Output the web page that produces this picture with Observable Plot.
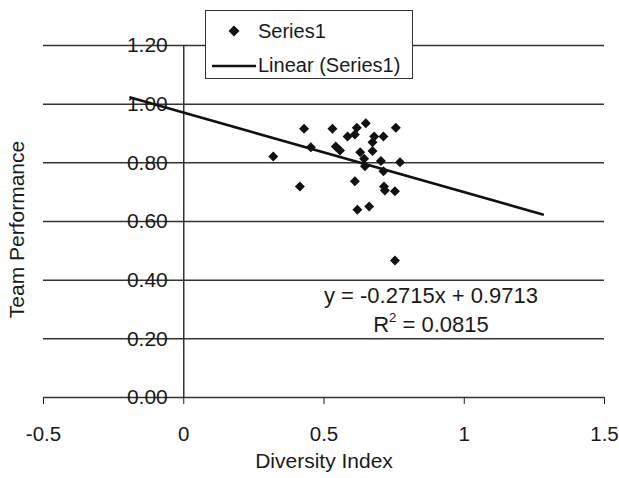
<!DOCTYPE html>
<html>
<head>
<meta charset="utf-8">
<script src="https://cdn.jsdelivr.net/npm/d3@7"></script>
<script src="https://cdn.jsdelivr.net/npm/@observablehq/plot@0.6"></script>
<style>
  body { margin: 0; background: white; }
  #wrap { position: relative; width: 619px; height: 478px; font-family: "Liberation Sans", Arial, sans-serif; color: #1a1a1a; }
  #legend { position: absolute; left: 205px; top: 10px; width: 206px; height: 67px; border: 1.5px solid #333; background: white; }
  #legend span { position: absolute; font-size: 20px; line-height: 24px; white-space: nowrap; }
  #eq { position: absolute; left: 300px; top: 281px; width: 262px; text-align: center; font-size: 22px; line-height: 29px; }
  #eq sup { font-size: 60%; line-height: 0; position: relative; top: -0.1em; }
</style>
</head>
<body>
<div id="wrap">
  <div id="chart"></div>
  <div id="legend">
    <svg style="position:absolute;left:22px;top:14px" width="12" height="12"><path d="M6,0.5L11.5,6L6,11.5L0.5,6Z" fill="#111"/></svg>
    <span style="left:52px;top:8px">Series1</span>
    <svg style="position:absolute;left:6px;top:53px" width="44" height="4"><line x1="0" y1="2" x2="44" y2="2" stroke="#111" stroke-width="2.6"/></svg>
    <span style="left:52px;top:42px">Linear (Series1)</span>
  </div>
  <div id="eq">y = -0.2715x + 0.9713<br>R<sup>2</sup> = 0.0815</div>
</div>
<script>
// Data
const diversity = [0.319, 0.414, 0.429, 0.453, 0.530, 0.542, 0.557, 0.584, 0.610, 0.617,
                   0.649, 0.629, 0.643, 0.646, 0.610, 0.619, 0.661, 0.673, 0.679, 0.673,
                   0.712, 0.703, 0.712, 0.714, 0.717, 0.753, 0.756, 0.771, 0.753];
const performance = [0.822, 0.719, 0.916, 0.853, 0.916, 0.856, 0.842, 0.890, 0.897, 0.920,
                     0.935, 0.836, 0.814, 0.788, 0.737, 0.640, 0.651, 0.870, 0.890, 0.840,
                     0.890, 0.806, 0.771, 0.719, 0.706, 0.703, 0.920, 0.802, 0.467];
const slope = -0.2715;
const intercept = 0.9713;
const trendRange = [-0.19, 1.28];
const xTicks = [-0.5, 0, 0.5, 1, 1.5];
const yTicks = [0, 0.2, 0.4, 0.6, 0.8, 1.0, 1.2];

const points = diversity.map((x, i) => ({x, y: performance[i]}));
const trend = trendRange.map(x => ({x, y: slope * x + intercept}));

const chart = Plot.plot({
  width: 619,
  height: 478,
  marginLeft: 43,
  marginRight: 15,
  marginTop: 45,
  marginBottom: 81,
  style: {fontFamily: "Liberation Sans, Arial, sans-serif", fontSize: "20.5px", color: "#1a1a1a", background: "white"},
  x: {domain: [-0.5, 1.5], ticks: xTicks, tickFormat: d => String(d), tickSize: 7, tickPadding: 22, label: null},
  y: {domain: [0, 1.2], axis: null},
  marks: [
    Plot.ruleY(yTicks, {stroke: "#333", strokeWidth: 1.5}),
    Plot.ruleX([0], {y1: 0, y2: 1.2, stroke: "#333", strokeWidth: 1.5}),
    Plot.text(yTicks, {x: 0, y: d => d, text: d => d.toFixed(2), textAnchor: "end", dx: -16, fontSize: 21, fill: "#1a1a1a"}),
    Plot.line(trend, {x: "x", y: "y", stroke: "#111", strokeWidth: 2.6}),
    Plot.dot(points, {x: "x", y: "y", symbol: "diamond2", r: 4.5, fill: "#111"}),
    Plot.text(["Diversity Index"], {frameAnchor: "bottom", dy: 70, fontSize: 21, fill: "#1a1a1a"}),
    Plot.text(["Team Performance"], {frameAnchor: "left", textAnchor: "middle", dx: -26, dy: 8, rotate: -90, fontSize: 21, fill: "#1a1a1a"})
  ]
});
document.getElementById("chart").appendChild(chart);
</script>
</body>
</html>
